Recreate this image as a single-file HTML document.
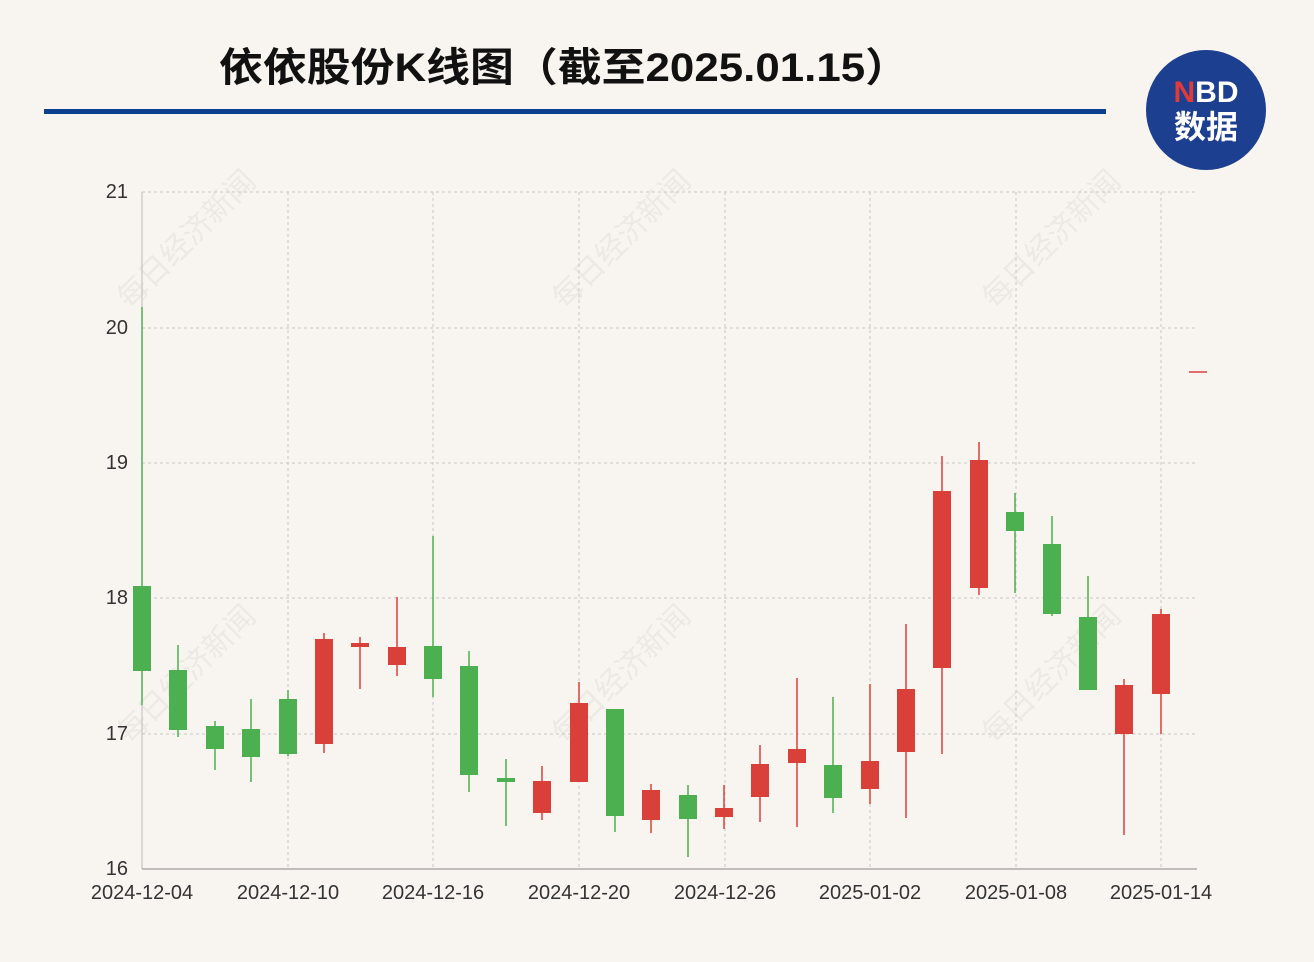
<!DOCTYPE html>
<html><head><meta charset="utf-8"><style>
html,body{margin:0;padding:0;background:#f8f5f0;}
body{width:1314px;height:962px;overflow:hidden;position:relative;font-family:"Liberation Sans","Noto Sans CJK SC",sans-serif;}
</style></head><body>
<svg width="1314" height="962" viewBox="0 0 1314 962" xmlns="http://www.w3.org/2000/svg" style="position:absolute;left:0;top:0">
<rect width="1314" height="962" fill="#f8f5f0"/>
<text x="564" y="81" text-anchor="middle" font-family="Liberation Sans,Noto Sans CJK SC,sans-serif" font-weight="bold" font-size="40" textLength="690" lengthAdjust="spacingAndGlyphs" fill="#111">依依股份K线图（截至2025.01.15）</text>
<rect x="44" y="109" width="1062" height="5" fill="#0d3f8f"/>
<circle cx="1206" cy="110" r="60" fill="#1d3f8f"/>
<text x="1206" y="102" text-anchor="middle" font-family="Liberation Sans,sans-serif" font-weight="bold" font-size="30" fill="#fff"><tspan fill="#e03a3a">N</tspan>BD</text>
<text x="1206" y="138" text-anchor="middle" font-family="Noto Sans CJK SC,sans-serif" font-weight="bold" font-size="32" fill="#fff">数据</text>
<g font-family="Noto Sans CJK SC,sans-serif" font-size="30" fill="#000" opacity="0.05">
<text transform="translate(130,310) rotate(-45)">每日经济新闻</text>
<text transform="translate(565,310) rotate(-45)">每日经济新闻</text>
<text transform="translate(995,310) rotate(-45)">每日经济新闻</text>
<text transform="translate(130,745) rotate(-45)">每日经济新闻</text>
<text transform="translate(565,745) rotate(-45)">每日经济新闻</text>
<text transform="translate(995,745) rotate(-45)">每日经济新闻</text>
</g>
<g stroke="#c8c8c8" stroke-width="1" stroke-dasharray="3,3">
<line x1="142" y1="192" x2="1197" y2="192"/><line x1="142" y1="328" x2="1197" y2="328"/><line x1="142" y1="463" x2="1197" y2="463"/><line x1="142" y1="598" x2="1197" y2="598"/><line x1="142" y1="734" x2="1197" y2="734"/>
<line x1="288" y1="192" x2="288" y2="869"/><line x1="433" y1="192" x2="433" y2="869"/><line x1="579" y1="192" x2="579" y2="869"/><line x1="725" y1="192" x2="725" y2="869"/><line x1="870" y1="192" x2="870" y2="869"/><line x1="1016" y1="192" x2="1016" y2="869"/><line x1="1161" y1="192" x2="1161" y2="869"/>
</g>
<line x1="142" y1="192" x2="142" y2="869" stroke="#bbb"/>
<line x1="142" y1="869" x2="1197" y2="869" stroke="#888"/>
<g font-size="20" fill="#333" font-family="Liberation Sans,sans-serif" text-anchor="end">
<text x="128" y="198">21</text><text x="128" y="334">20</text><text x="128" y="469">19</text><text x="128" y="604">18</text><text x="128" y="740">17</text><text x="128" y="875">16</text>
</g>
<g font-size="20" fill="#333" font-family="Liberation Sans,sans-serif" text-anchor="middle">
<text x="142" y="899">2024-12-04</text><text x="288" y="899">2024-12-10</text><text x="433" y="899">2024-12-16</text><text x="579" y="899">2024-12-20</text><text x="725" y="899">2024-12-26</text><text x="870" y="899">2025-01-02</text><text x="1016" y="899">2025-01-08</text><text x="1161" y="899">2025-01-14</text>
</g>
<g stroke="#4caf50" stroke-width="1.5">
<line x1="142" y1="307" x2="142" y2="705"/><line x1="178" y1="645" x2="178" y2="737"/><line x1="215" y1="721" x2="215" y2="770"/><line x1="251" y1="699" x2="251" y2="782"/><line x1="288" y1="690" x2="288" y2="756"/><line x1="433" y1="536" x2="433" y2="697"/><line x1="469" y1="651" x2="469" y2="792"/><line x1="506" y1="759" x2="506" y2="826"/><line x1="615" y1="709" x2="615" y2="832"/><line x1="688" y1="785" x2="688" y2="857"/><line x1="833" y1="697" x2="833" y2="813"/><line x1="1015" y1="493" x2="1015" y2="593"/><line x1="1052" y1="516" x2="1052" y2="616"/><line x1="1088" y1="576" x2="1088" y2="690"/>
</g>
<g fill="#4caf50">
<rect x="133" y="586" width="18" height="85"/><rect x="169" y="670" width="18" height="60"/><rect x="206" y="726" width="18" height="23"/><rect x="242" y="729" width="18" height="28"/><rect x="279" y="699" width="18" height="55"/><rect x="424" y="646" width="18" height="33"/><rect x="460" y="666" width="18" height="109"/><rect x="497" y="778" width="18" height="4"/><rect x="606" y="709" width="18" height="107"/><rect x="679" y="795" width="18" height="24"/><rect x="824" y="765" width="18" height="33"/><rect x="1006" y="512" width="18" height="19"/><rect x="1043" y="544" width="18" height="70"/><rect x="1079" y="617" width="18" height="73"/>
</g>
<g stroke="#d9403a" stroke-width="1.5">
<line x1="324" y1="633" x2="324" y2="753"/><line x1="360" y1="637" x2="360" y2="689"/><line x1="397" y1="597" x2="397" y2="676"/><line x1="542" y1="766" x2="542" y2="820"/><line x1="579" y1="682" x2="579" y2="782"/><line x1="651" y1="784" x2="651" y2="833"/><line x1="724" y1="785" x2="724" y2="829"/><line x1="760" y1="745" x2="760" y2="822"/><line x1="797" y1="678" x2="797" y2="827"/><line x1="870" y1="684" x2="870" y2="804"/><line x1="906" y1="624" x2="906" y2="818"/><line x1="942" y1="456" x2="942" y2="754"/><line x1="979" y1="442" x2="979" y2="595"/><line x1="1124" y1="679" x2="1124" y2="835"/><line x1="1161" y1="609" x2="1161" y2="734"/>
</g>
<g fill="#d9403a">
<rect x="315" y="639" width="18" height="105"/><rect x="351" y="643" width="18" height="4"/><rect x="388" y="647" width="18" height="18"/><rect x="533" y="781" width="18" height="32"/><rect x="570" y="703" width="18" height="79"/><rect x="642" y="790" width="18" height="30"/><rect x="715" y="808" width="18" height="9"/><rect x="751" y="764" width="18" height="33"/><rect x="788" y="749" width="18" height="14"/><rect x="861" y="761" width="18" height="28"/><rect x="897" y="689" width="18" height="63"/><rect x="933" y="491" width="18" height="177"/><rect x="970" y="460" width="18" height="128"/><rect x="1115" y="685" width="18" height="49"/><rect x="1152" y="614" width="18" height="80"/>
</g>
<line x1="1189" y1="372" x2="1207" y2="372" stroke="#d9403a" stroke-width="1.5"/>
</svg>
</body></html>
